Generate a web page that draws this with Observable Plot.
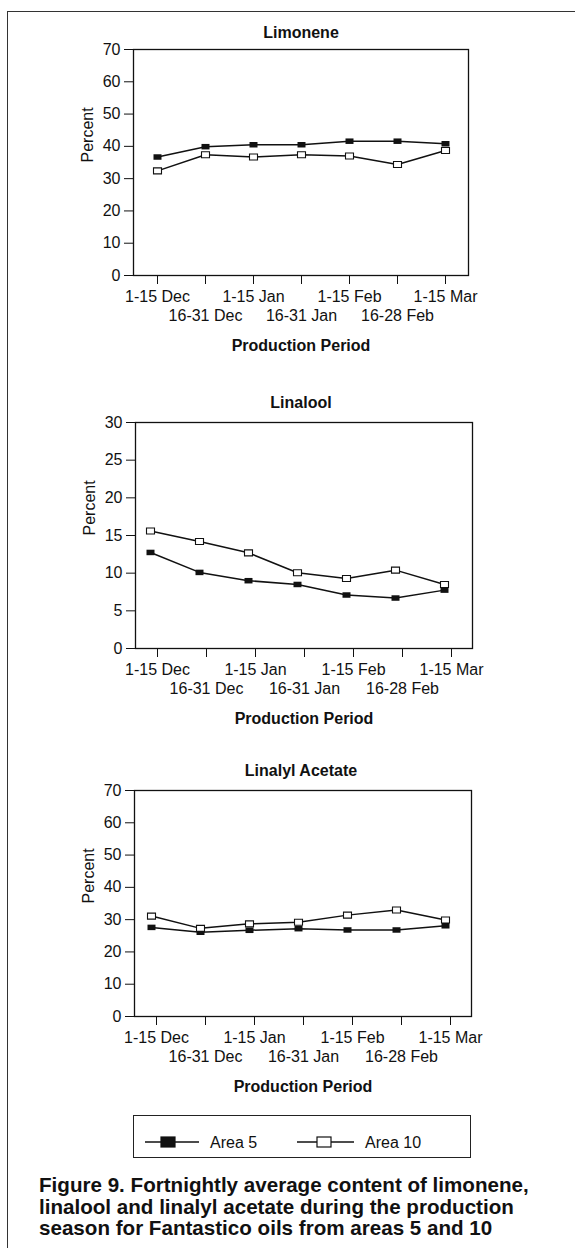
<!DOCTYPE html>
<html>
<head>
<meta charset="utf-8">
<script src="https://cdn.jsdelivr.net/npm/d3@7"></script>
<script src="https://cdn.jsdelivr.net/npm/@observablehq/plot@0.6"></script>
<style>
  html, body { margin: 0; padding: 0; background: #fff; }
  body { width: 575px; height: 1248px; position: relative; overflow: hidden;
         font-family: "Liberation Sans", Arial, Helvetica, sans-serif; color: #111; }
  #border { position: absolute; left: 7px; top: 11px; width: 640px; height: 1320px;
            border: 1.5px solid #333; box-sizing: border-box; }
  .title { position: absolute; left: 0; width: 602px; text-align: center;
           font-weight: bold; font-size: 16px; line-height: 20px; }
  .panel { position: absolute; left: 0; top: 0; }
  #legend { position: absolute; left: 133px; top: 1115px; width: 338px; height: 43px;
            border: 1.3px solid #222; box-sizing: border-box; }
  #caption { position: absolute; left: 39px; top: 1174px; width: 536px; white-space: nowrap;
             font-weight: bold; font-size: 20.6px; line-height: 21.5px; color: #111; }
</style>
</head>
<body>
<div id="border"></div>
<div id="root"></div>
<div id="legend"></div>
<div id="caption">Figure 9. Fortnightly average content of limonene,<br>linalool and linalyl acetate during the production<br>season for Fantastico oils from areas 5 and 10</div>
<script>
// ---- data ----
const periods = ["1-15 Dec", "16-31 Dec", "1-15 Jan", "16-31 Jan", "1-15 Feb", "16-28 Feb", "1-15 Mar"];
const seriesNames = ["Area 5", "Area 10"];

const limoneneArea5  = [36.7, 39.9, 40.5, 40.5, 41.6, 41.6, 40.8];
const limoneneArea10 = [32.4, 37.4, 36.7, 37.4, 37.0, 34.4, 38.7];

const linaloolArea5  = [12.75, 10.1, 9.0, 8.5, 7.1, 6.7, 7.75];
const linaloolArea10 = [15.6, 14.2, 12.7, 10.05, 9.3, 10.4, 8.5];

const acetateArea5   = [27.6, 26.1, 26.7, 27.2, 26.8, 26.8, 28.1];
const acetateArea10  = [31.1, 27.3, 28.7, 29.2, 31.4, 33.0, 29.9];

const ticks70 = [0, 10, 20, 30, 40, 50, 60, 70];
const ticks30 = [0, 5, 10, 15, 20, 25, 30];

const panelTitles = ["Limonene", "Linalool", "Linalyl Acetate"];
const xAxisLabel = "Production Period";
const yAxisLabel = "Percent";

// ---- layout (styles/positions) ----
const panels = [
  {title: panelTitles[0], a5: limoneneArea5, a10: limoneneArea10, domain: [0, 70], ticks: ticks70,
   top: 49, left: 133, right: 468, titleY: 33, shift: 0},
  {title: panelTitles[1], a5: linaloolArea5, a10: linaloolArea10, domain: [0, 30], ticks: ticks30,
   top: 422, left: 135, right: 472, titleY: 403, shift: -7},
  {title: panelTitles[2], a5: acetateArea5, a10: acetateArea10, domain: [0, 70], ticks: ticks70,
   top: 790, left: 134, right: 471, titleY: 771, shift: -5}
];

const INK = "#111";
const frameH = 226;
const mTop = 10, mBottom = 75;

const rect = (w, h) => ({
  draw(ctx) {
    ctx.moveTo(-w / 2, -h / 2); ctx.lineTo(w / 2, -h / 2);
    ctx.lineTo(w / 2, h / 2); ctx.lineTo(-w / 2, h / 2); ctx.closePath();
  }
});

const row1 = periods.filter((d, i) => i % 2 === 0);
const row2 = periods.filter((d, i) => i % 2 === 1);

const root = document.getElementById("root");

for (const p of panels) {
  const data = [];
  periods.forEach((period, i) => {
    data.push({period, area: seriesNames[0], value: p.a5[i]});
    data.push({period, area: seriesNames[1], value: p.a10[i]});
  });

  const t = document.createElement("div");
  t.className = "title";
  t.style.top = (p.titleY - 10) + "px";
  t.textContent = p.title;
  root.appendChild(t);

  const chart = Plot.plot({
    width: 575,
    height: mTop + frameH + mBottom,
    marginTop: mTop,
    marginBottom: mBottom,
    marginLeft: p.left,
    marginRight: 575 - p.right,
    style: {fontFamily: '"Liberation Sans", Arial, Helvetica, sans-serif', fontSize: "16px",
            color: INK, background: "transparent", overflow: "visible"},
    x: {type: "point", domain: periods, padding: 0.42},
    y: {domain: p.domain},
    marks: [
      Plot.frame({stroke: INK, strokeWidth: 1.3}),
      Plot.axisY({ticks: p.ticks, tickSize: 9, tickPadding: 4, fontSize: 16, label: null, stroke: INK}),
      Plot.axisX({tickSize: 9, tickFormat: () => "", label: null, stroke: INK}),
      Plot.text(row1, {x: d => d, frameAnchor: "bottom", dy: 26, fontSize: 16, fill: INK}),
      Plot.text(row2, {x: d => d, frameAnchor: "bottom", dy: 45, fontSize: 16, fill: INK}),
      Plot.text([xAxisLabel], {frameAnchor: "bottom", dy: 75, fontSize: 16, fontWeight: "bold", fill: INK}),
      Plot.text([yAxisLabel], {frameAnchor: "left", rotate: -90, dx: -46, fontSize: 16, fill: INK}),
      Plot.line(data, {x: "period", y: "value", z: "area", stroke: INK, strokeWidth: 1.5, dx: p.shift}),
      Plot.dot(data.filter(d => d.area === seriesNames[0]),
        {x: "period", y: "value", symbol: rect(8, 5.5), fill: INK, stroke: "none", r: 4, dx: p.shift}),
      Plot.dot(data.filter(d => d.area === seriesNames[1]),
        {x: "period", y: "value", symbol: rect(8, 6), fill: "#fff", stroke: INK, strokeWidth: 1.1, r: 4, dx: p.shift})
    ]
  });
  chart.classList.add("panel");
  chart.style.position = "absolute";
  chart.style.top = (p.top - mTop) + "px";
  chart.style.left = "0px";
  root.appendChild(chart);
}

// ---- legend ----
const lg = document.getElementById("legend");
const ns = "http://www.w3.org/2000/svg";
const svg = document.createElementNS(ns, "svg");
svg.setAttribute("width", 336);
svg.setAttribute("height", 41);
svg.style.position = "absolute";
svg.style.left = "0px";
svg.style.top = "0px";
const cy = 26;
const items = [
  {name: seriesNames[0], x0: 11, x1: 65, cx: 34, fill: INK, tx: 76},
  {name: seriesNames[1], x0: 163, x1: 220, cx: 190, fill: "#fff", tx: 231}
];
for (const it of items) {
  const l = document.createElementNS(ns, "line");
  l.setAttribute("x1", it.x0); l.setAttribute("x2", it.x1);
  l.setAttribute("y1", cy); l.setAttribute("y2", cy);
  l.setAttribute("stroke", INK); l.setAttribute("stroke-width", 1.4);
  svg.appendChild(l);
  const r = document.createElementNS(ns, "rect");
  r.setAttribute("x", it.cx - 7); r.setAttribute("y", cy - 5);
  r.setAttribute("width", 14); r.setAttribute("height", 10);
  r.setAttribute("fill", it.fill); r.setAttribute("stroke", INK); r.setAttribute("stroke-width", 1.2);
  svg.appendChild(r);
  const tx = document.createElementNS(ns, "text");
  tx.setAttribute("x", it.tx); tx.setAttribute("y", cy);
  tx.setAttribute("dy", "0.35em");
  tx.setAttribute("font-size", 16);
  tx.setAttribute("fill", INK);
  tx.setAttribute("font-family", '"Liberation Sans", Arial, Helvetica, sans-serif');
  tx.textContent = it.name;
  svg.appendChild(tx);
}
lg.appendChild(svg);
</script>
</body>
</html>
